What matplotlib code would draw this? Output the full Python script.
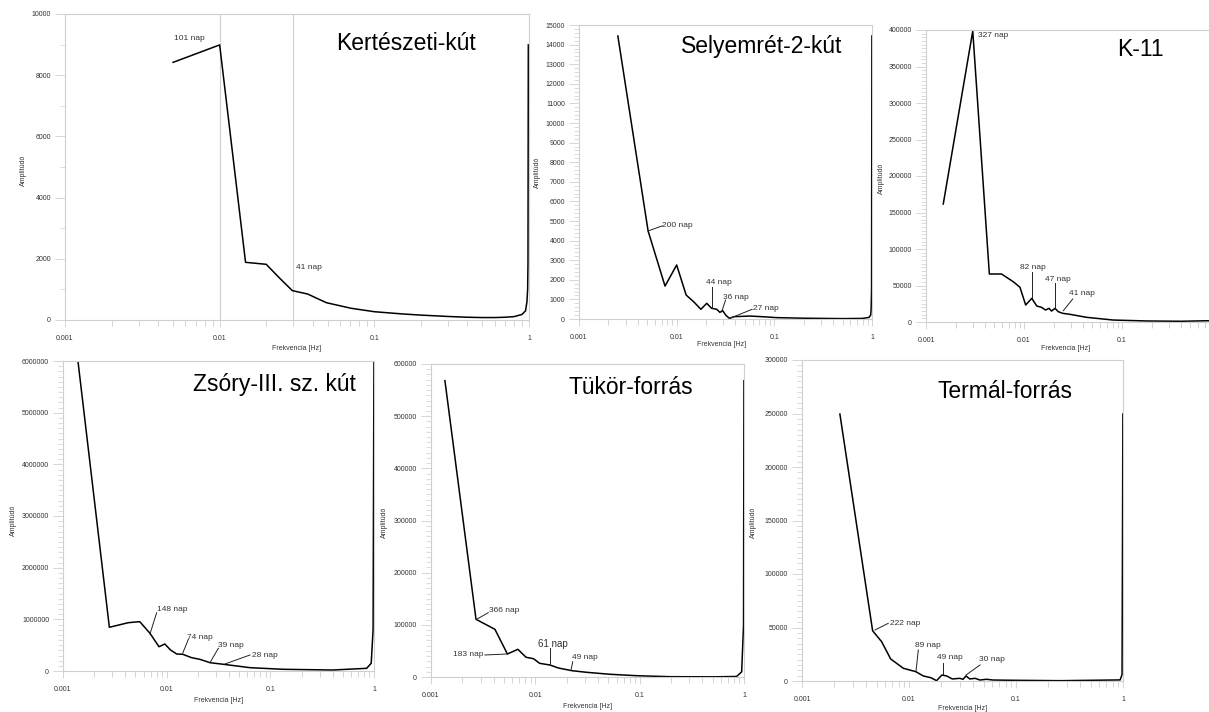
import matplotlib
matplotlib.use("Agg")
import matplotlib.pyplot as plt
from matplotlib.ticker import FixedLocator, MultipleLocator, AutoMinorLocator, LogLocator, NullFormatter

plt.rcParams['font.family'] = ['Liberation Sans', 'DejaVu Sans']

W, H = 1209, 712

# --- data (frequency [Hz], amplitude) ---
titles = ["Kertészeti-kút", "Selyemrét-2-kút", "K-11",
          "Zsóry-III. sz. kút", "Tükör-forrás", "Termál-forrás"]

f1 = [0.005, 0.01, 0.0147, 0.02, 0.0245, 0.0295, 0.037, 0.049, 0.071, 0.1, 0.15, 0.2,
      0.3, 0.4, 0.5, 0.6, 0.7, 0.8, 0.9, 0.95, 0.97, 0.98, 0.985, 0.99]
a1 = [8420, 8990, 1885, 1820, 1360, 960, 850, 565, 382, 271, 200, 160,
      115, 90, 80, 80, 90, 110, 180, 300, 600, 1000, 1850, 8990]

f2 = [0.0025, 0.0051, 0.0076, 0.01, 0.0125, 0.015, 0.0177, 0.0203, 0.0228, 0.0257, 0.0277,
      0.0296, 0.0317, 0.0346, 0.039, 0.056, 0.08, 0.105, 0.2, 0.5, 0.8, 0.93, 0.97, 0.98,
      0.99, 0.9975]
a2 = [14440, 4490, 1680, 2755, 1225, 870, 495, 800, 545, 495, 340,
      425, 205, 35, 120, 150, 110, 70, 40, 20, 30, 80, 200, 500,
      1500, 14440]

f3 = [0.0015, 0.003, 0.00443, 0.0059, 0.0078, 0.0091, 0.0104, 0.012, 0.0135, 0.0151, 0.0166,
      0.018, 0.0191, 0.0207, 0.0224, 0.0248, 0.0295, 0.0435, 0.081, 0.18, 0.4, 0.8]
a3 = [161600, 398600, 65750, 65750, 55000, 47500, 23300, 32400, 21900, 20100, 16400,
      18700, 15000, 18700, 14100, 11900, 10500, 6400, 2700, 1400, 1000, 1800]

f4 = [0.0014, 0.0028, 0.00426, 0.0055, 0.0069, 0.00843, 0.0096, 0.0109, 0.0125, 0.0143,
      0.0174, 0.0209, 0.0262, 0.0355, 0.064, 0.133, 0.4, 0.85, 0.94, 0.98, 0.9986]
a4 = [5967000, 845800, 935000, 955000, 730000, 470000, 522600, 406000, 329000, 323000,
      258000, 226000, 161000, 129000, 64000, 33000, 19000, 52000, 150000, 800000, 5967000]

f5 = [0.00136, 0.0027, 0.0041, 0.0054, 0.0068, 0.00815, 0.0096, 0.011, 0.0138, 0.0166,
      0.0224, 0.031, 0.052, 0.093, 0.195, 0.5, 0.85, 0.95, 0.99, 0.9986]
a5 = [568000, 110600, 91400, 44100, 53100, 37800, 35100, 26200, 23000, 17300,
      12100, 9000, 5200, 2500, 600, 300, 1000, 10000, 100000, 568000]

f6 = [0.00226, 0.00457, 0.00555, 0.00674, 0.00885, 0.0116, 0.0136, 0.016, 0.0181, 0.0203,
      0.0225, 0.0254, 0.0298, 0.032, 0.0341, 0.037, 0.0415, 0.046, 0.053, 0.061, 0.088,
      0.26, 0.94, 0.98, 0.99775]
a6 = [249500, 47000, 36700, 20600, 11900, 8700, 4700, 3100, 300, 5600,
      4700, 1900, 2500, 1600, 4700, 1900, 2500, 900, 1600, 900, 700,
      300, 1000, 6000, 249500]

freqs = [f1, f2, f3, f4, f5, f6]
amps = [a1, a2, a3, a4, a5, a6]
ymax = [10000, 15000, 400000, 6000000, 600000, 300000]
ystep = [2000, 1000, 50000, 1000000, 100000, 50000]
yminor = [2, 5, 10, 10, 10, 10]
xticks = [0.001, 0.01, 0.1, 1]
xticklabels = ["0.001", "0.01", "0.1", "1"]

# annotations: (label, text pos (f, a), leader start/end)
notes = [
    [("101 nap", (0.0051, 9200), None),
     ("41 nap", (0.031, 1700), None)],
    [("200 nap", (0.0071, 4750), ((0.0071, 4750), (0.0051, 4490))),
     ("44 nap", (0.0199, 1840), ((0.0228, 1630), (0.0228, 560))),
     ("36 nap", (0.0298, 1120), ((0.0317, 970), (0.0289, 370))),
     ("27 nap", (0.0608, 560), ((0.0593, 495), (0.0351, 36)))],
    [("327 nap", (0.0034, 392000), None),
     ("82 nap", (0.0091, 75300), ((0.012, 68500), (0.012, 32900))),
     ("47 nap", (0.0164, 58900), ((0.0207, 53400), (0.0207, 19200))),
     ("41 nap", (0.0288, 39700), ((0.0314, 31500), (0.0252, 15500)))],
    [("148 nap", (0.00806, 1181000), ((0.0080, 1128000), (0.0069, 716000))),
     ("74 nap", (0.0157, 658000), ((0.0162, 613500), (0.01426, 342600))),
     ("39 nap", (0.0313, 484000), ((0.0315, 439000), (0.02616, 160600))),
     ("28 nap", (0.0665, 296000), ((0.0636, 309700), (0.0365, 135500)))],
    [("366 nap", (0.0036, 128400), ((0.00354, 123300), (0.00274, 110600))),
     ("183 nap", (0.00322, 42200), ((0.00329, 42200), (0.00539, 44100))),
     ("61 nap", (0.0106, 63300), ((0.01383, 55600), (0.01383, 23000))),
     ("49 nap", (0.0225, 37000), ((0.02284, 29300), (0.02199, 13400)))],
    [("222 nap", (0.00664, 53300), ((0.0064, 53900), (0.00481, 47700))),
     ("89 nap", (0.01138, 33000), ((0.01222, 29000), (0.01162, 8700))),
     ("49 nap", (0.01827, 21500), ((0.02065, 17100), (0.02065, 6500))),
     ("30 nap", (0.0451, 20300), ((0.0461, 15000), (0.0341, 5600)))],
]

# --- layout in pixels (left, right, top, bottom) ---
boxes = [(65, 529, 14, 320), (579, 872, 25, 319), (926, 1220, 30, 322),
         (63, 374, 361, 671), (431, 744, 364, 677), (802, 1123, 360, 681)]
title_pos = [(406, 43), (762, 47), (1140, 49), (274, 385), (631, 387), (1005, 392)]
xlabel_pos = [(297, 348), (722, 344), (1066, 348), (219, 700), (588, 707), (963, 709)]
ylabel_pos = [(23, 170), (537, 172), (881, 178), (13, 520), (384, 522), (753, 522)]

fig = plt.figure(figsize=(W / 100, H / 100), dpi=100)
frame = "#cfcfcf"
tcol = "#333333"

for i in range(6):
    l, r, t, b = boxes[i]
    ax = fig.add_axes([l / W, 1 - b / H, (r - l) / W, (b - t) / H])
    ax.set_xscale("log")
    ax.set_xlim(0.001, 1)
    ax.set_ylim(0, ymax[i])
    ax.plot(freqs[i], amps[i], color="black", lw=1.1, clip_on=False)

    for s in ax.spines.values():
        s.set_color(frame)
        s.set_linewidth(0.8)

    # the K-11 panel runs past the right edge, its "1" label is not shown
    n = 3 if i == 2 else 4
    ax.xaxis.set_major_locator(FixedLocator(xticks[:n]))
    ax.xaxis.set_ticklabels(xticklabels[:n])
    ax.xaxis.set_minor_locator(LogLocator(base=10, subs=range(2, 10)))
    ax.xaxis.set_minor_formatter(NullFormatter())
    ax.yaxis.set_major_locator(MultipleLocator(ystep[i]))
    ax.yaxis.set_minor_locator(AutoMinorLocator(yminor[i]))
    ax.yaxis.set_major_formatter(plt.FuncFormatter(lambda v, p: "%d" % v))

    ax.tick_params(axis="x", which="major", length=5, width=0.6, color=frame,
                   labelsize=5, labelcolor=tcol, pad=6)
    ax.tick_params(axis="x", which="minor", length=4, width=0.6, color=frame)
    ax.tick_params(axis="y", which="major", length=7, width=0.6, color=frame,
                   labelsize=5, labelcolor=tcol, pad=3)
    ax.tick_params(axis="y", which="minor", length=3.5, width=0.5, color=frame)

    if i == 0:
        for g in [0.01, 0.03]:
            ax.axvline(g, color=frame, lw=0.8, zorder=0)

    for lab, pos, lead in notes[i]:
        fs = 7 if (i == 4 and lab == "61 nap") else 6
        ha = "right" if (i == 4 and lab == "183 nap") else "left"
        ax.text(pos[0], pos[1], lab, fontsize=fs, color=tcol, ha=ha, va="center")
        if lead is not None:
            (x0, y0), (x1, y1) = lead
            ax.plot([x0, x1], [y0, y1], color="#222222", lw=0.7)

    tx, ty = title_pos[i]
    fig.text(tx / W, 1 - ty / H, titles[i], fontsize=16.5, ha="center", va="center")
    xx, xy = xlabel_pos[i]
    fig.text(xx / W, 1 - xy / H, "Frekvencia [Hz]", fontsize=5, color=tcol,
             ha="center", va="center")
    yx, yy = ylabel_pos[i]
    fig.text(yx / W, 1 - yy / H, "Amplitúdó", fontsize=5, color=tcol,
             ha="center", va="center", rotation=90)

fig.savefig("out.png", dpi=100)
